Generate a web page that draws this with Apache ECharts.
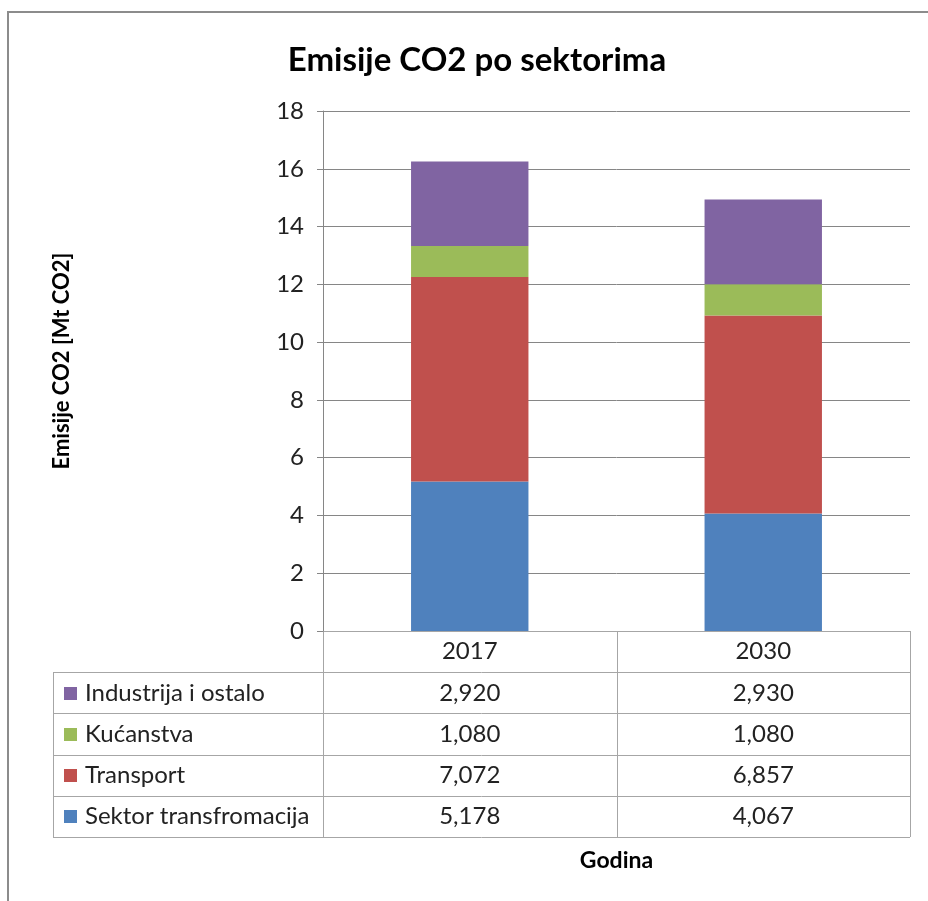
<!DOCTYPE html>
<html>
<head>
<meta charset="utf-8">
<script src="https://cdn.jsdelivr.net/npm/echarts@6/dist/echarts.min.js"></script>
<style>
  html, body { margin: 0; padding: 0; background: #fff; }
  #chart { width: 928px; height: 901px; }
</style>
</head>
<body>
<div id="chart"></div>
<script>
// podaci
const years = ['2017', '2030'];
const sektorTransformacija = [5.178, 4.067];
const transport = [7.072, 6.857];
const kucanstva = [1.080, 1.080];
const industrija = [2.920, 2.930];
const seriesNames = ['Sektor transfromacija', 'Transport', 'Kućanstva', 'Industrija i ostalo'];
const seriesColors = ['#4F81BD', '#C0504D', '#9BBB59', '#8064A2'];
const yMax = 18;
const yStep = 2;

const FONT = 'Lato, "Open Sans", sans-serif';
const GRID = { left: 323, top: 111, right: 18, bottom: 270 };
const ROW_H = 41.2;
const TABLE_LEFT = 53;
const LINE = '#a6a6a6';
const TXT = 24;

const seriesData = [sektorTransformacija, transport, kucanstva, industrija];

const chart = echarts.init(document.getElementById('chart'));

chart.setOption({
  animation: false,
  title: {
    text: 'Emisije CO2 po sektorima',
    left: 472,
    top: 39,
    textAlign: 'center',
    textStyle: { fontFamily: FONT, fontSize: 33, fontWeight: 'bold', color: '#000' }
  },
  grid: GRID,
  xAxis: {
    type: 'category',
    data: years,
    axisLine: { show: false },
    axisTick: { show: false },
    axisLabel: { show: false }
  },
  yAxis: {
    type: 'value',
    min: 0,
    max: yMax,
    interval: yStep,
    name: 'Emisije CO2 [Mt CO2]',
    nameLocation: 'middle',
    nameGap: 250,
    nameTextStyle: { fontFamily: FONT, fontSize: 22, fontWeight: 'bold', color: '#000', padding: [0, 0, 0, 20] },
    axisLine: { show: true, lineStyle: { color: '#868686', width: 1 } },
    axisTick: { show: true, length: 6, lineStyle: { color: '#868686' } },
    axisLabel: { fontFamily: FONT, fontSize: TXT, color: '#222', margin: 19 },
    splitLine: { lineStyle: { color: '#868686', width: 1 } }
  },
  series: seriesNames.map((name, i) => ({
    name: name,
    type: 'bar',
    stack: 'total',
    barWidth: '40%',
    data: seriesData[i],
    itemStyle: { color: seriesColors[i] }
  }))
});

// tablica podataka ispod grafa
function fmt(v) {
  return v.toFixed(3).replace('.', ',');
}

const plotLeft = GRID.left;
const plotRight = 928 - GRID.right;
const plotBottom = 901 - GRID.bottom;
const colW = (plotRight - plotLeft) / years.length;
const nRows = seriesNames.length;
const tableBottom = plotBottom + ROW_H * (nRows + 1);
const els = [];

// okvir cijelog grafikona
els.push({
  type: 'rect',
  shape: { x: 8, y: 12, width: 1000, height: 1000 },
  style: { fill: null, stroke: '#8c8c8c', lineWidth: 2 },
  z: -1
});

// horizontalne linije
for (let r = 0; r <= nRows + 1; r++) {
  const y = Math.round(plotBottom + ROW_H * r) + 0.5;
  els.push({
    type: 'line',
    shape: { x1: r === 0 ? plotLeft : TABLE_LEFT, y1: y, x2: plotRight, y2: y },
    style: { stroke: LINE, lineWidth: 1 }
  });
}
// vertikalne linije
els.push({
  type: 'line',
  shape: { x1: TABLE_LEFT + 0.5, y1: plotBottom + ROW_H, x2: TABLE_LEFT + 0.5, y2: tableBottom },
  style: { stroke: LINE, lineWidth: 1 }
});
for (let c = 0; c <= years.length; c++) {
  const x = Math.round(plotLeft + colW * c) + 0.5;
  els.push({
    type: 'line',
    shape: { x1: x, y1: c === 0 ? GRID.top : plotBottom, x2: x, y2: tableBottom },
    style: { stroke: LINE, lineWidth: 1 }
  });
}

// zaglavlje s godinama
years.forEach((yr, c) => {
  const cx = chart.convertToPixel({ xAxisIndex: 0 }, c);
  els.push({
    type: 'text',
    x: cx, y: plotBottom + ROW_H / 2,
    style: { text: yr, fontFamily: FONT, fontSize: TXT, fill: '#222', align: 'center', verticalAlign: 'middle' }
  });
});

// redovi: obrnuti redoslijed od slaganja
for (let r = 0; r < nRows; r++) {
  const si = nRows - 1 - r;
  const cy = plotBottom + ROW_H * (r + 1) + ROW_H / 2;
  els.push({
    type: 'rect',
    shape: { x: 64, y: Math.round(cy) - 6, width: 13, height: 13 },
    style: { fill: seriesColors[si] }
  });
  els.push({
    type: 'text',
    x: 85, y: cy,
    style: { text: seriesNames[si], fontFamily: FONT, fontSize: TXT, fill: '#222', align: 'left', verticalAlign: 'middle' }
  });
  years.forEach((yr, c) => {
    const cx = chart.convertToPixel({ xAxisIndex: 0 }, c);
    els.push({
      type: 'text',
      x: cx, y: cy,
      style: { text: fmt(seriesData[si][c]), fontFamily: FONT, fontSize: TXT, fill: '#222', align: 'center', verticalAlign: 'middle' }
    });
  });
}

// naziv osi x
els.push({
  type: 'text',
  x: (plotLeft + plotRight) / 2, y: 861,
  style: { text: 'Godina', fontFamily: FONT, fontSize: 23, fontWeight: 'bold', fill: '#000', align: 'center', verticalAlign: 'middle' }
});

chart.setOption({ graphic: { elements: els } });
</script>
</body>
</html>
